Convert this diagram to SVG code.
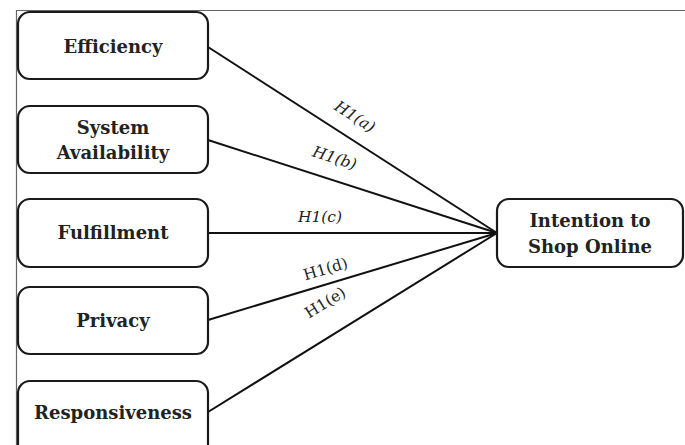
<svg xmlns="http://www.w3.org/2000/svg" width="685" height="445" viewBox="0 0 685 445">
<style>
.box{fill:#fff;stroke:#1a1a1a;stroke-width:2.2}
.t{font-family:"DejaVu Serif","Liberation Serif",serif;font-weight:bold;font-size:18px;fill:#222;text-anchor:middle}
.l{font-family:"DejaVu Serif","Liberation Serif",serif;font-size:15.5px;fill:#222;text-anchor:middle}
.i{font-style:italic}
.c{stroke:#111;stroke-width:2;fill:none}
</style>
<rect width="685" height="445" fill="#fff"/>
<path d="M16.5 445 V10.5 H685" fill="none" stroke="#666" stroke-width="1.2"/>
<g id="connectors">
<line class="c" x1="208" y1="47" x2="497" y2="233"/>
<line class="c" x1="208" y1="140" x2="497" y2="233"/>
<line class="c" x1="208" y1="233" x2="497" y2="233"/>
<line class="c" x1="208" y1="320" x2="497" y2="233"/>
<line class="c" x1="208" y1="412" x2="497" y2="233"/>
<text class="l i" transform="translate(352,121) rotate(32.8)">H1(a)</text>
<text class="l i" transform="translate(333,163) rotate(17.8)">H1(b)</text>
<text class="l i" transform="translate(320,222)">H1(c)</text>
<text class="l" transform="translate(327,274) rotate(-16.8)">H1(d)</text>
<text class="l" transform="translate(328,307) rotate(-31.8)">H1(e)</text>
</g>
<g id="efficiency"><rect class="box" x="18" y="12" width="190" height="67" rx="12"/><text class="t" x="113" y="53">Efficiency</text></g>
<g id="system"><rect class="box" x="18" y="106" width="190" height="67" rx="12"/><text class="t" x="113" y="134">System</text><text class="t" x="113" y="159">Availability</text></g>
<g id="fulfillment"><rect class="box" x="18" y="199" width="190" height="68" rx="12"/><text class="t" x="113" y="239">Fulfillment</text></g>
<g id="privacy"><rect class="box" x="18" y="287" width="190" height="67" rx="12"/><text class="t" x="113" y="327">Privacy</text></g>
<g id="responsiveness"><rect class="box" x="18" y="381" width="190" height="80" rx="12"/><text class="t" x="113" y="419">Responsiveness</text></g>
<g id="intention"><rect class="box" x="497" y="199" width="186" height="68" rx="12"/><text class="t" x="590" y="227">Intention to</text><text class="t" x="590" y="253">Shop Online</text></g>
</svg>
